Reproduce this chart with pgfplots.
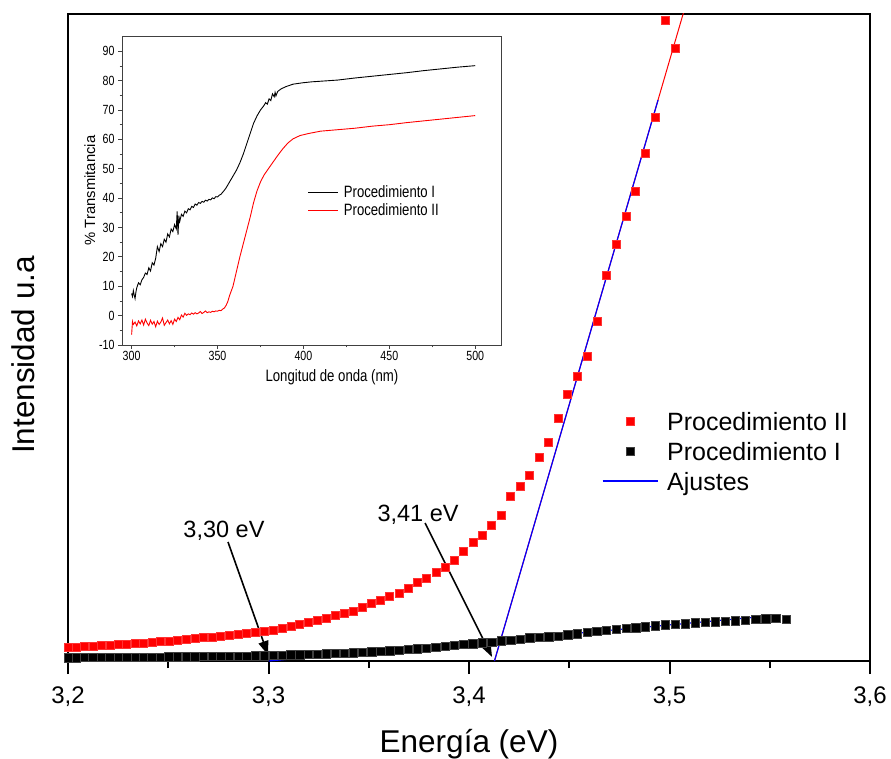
\documentclass[border=0pt]{standalone}
\usepackage{fontspec}
\setmainfont{Liberation Sans}
\newfontfamily\insetfont[FakeStretch=0.8]{Liberation Sans}
\usepackage{pgfplots}
\pgfplotsset{compat=1.18}
\usetikzlibrary{arrows.meta}
\begin{document}
\begin{tikzpicture}
\begin{axis}[
  at={(0pt,0pt)}, anchor=south west,
  scale only axis, width=802pt, height=647pt,
  xmin=3.2, xmax=3.6, ymin=0, ymax=647,
  xtick={3.2,3.3,3.4,3.5,3.6},
  minor xtick={3.25,3.35,3.45,3.55},
  ytick=\empty,
  xtick pos=bottom,
  tick align=outside,
  major tick length=13pt, minor tick length=7pt,
  every tick/.style={black, line width=2pt},
  axis line style={line width=2.5pt},
  /pgf/number format/assume math mode=true,
  xticklabel style={font=\fontsize{24}{28}\selectfont, anchor=base, yshift=-29pt,
    /pgf/number format/fixed, /pgf/number format/fixed zerofill,
    /pgf/number format/precision=1, /pgf/number format/use comma},
  xlabel={Energía (eV)},
  xlabel style={font=\fontsize{31.5}{36}\selectfont, at={(axis description cs:0.5,0)}, anchor=base, yshift=-91pt},
  ylabel={Intensidad u.a},
  ylabel style={font=\fontsize{31.5}{36}\selectfont, at={(axis description cs:0,0.473)}, anchor=base, yshift=33pt},
  legend image code/.code={\draw[mark repeat=2,mark phase=2,#1] plot coordinates {(0pt,0pt) (27.5pt,0pt) (55pt,0pt)};},
  legend cell align=left,
  legend style={draw=none, fill=none, inner sep=0pt, outer sep=0pt,
    at={(0.6658,0.3941)}, anchor=north west, row sep=0pt, column sep=9pt,
    font=\fontsize{25}{30}\selectfont,
    nodes={inner sep=0pt, text height=24pt, text depth=6pt}},
]
% Procedimiento II (red squares)
\addplot[only marks, mark=square*, mark size=4pt, mark options={fill=red, draw=red!80!white}] coordinates {
(3.2000,13.5)(3.2041,14)(3.2083,14.5)(3.2124,15)(3.2166,15.5)(3.2208,16)(3.2250,16.5)(3.2292,17)(3.2334,17.5)(3.2376,18)(3.2418,19)(3.2461,19.5)(3.2503,20)(3.2546,21)(3.2589,22)(3.2632,22.5)(3.2675,23.5)(3.2718,24)(3.2761,25)(3.2804,26)(3.2848,26.5)(3.2891,27.5)(3.2935,28.5)(3.2979,29.5)(3.3023,31)(3.3067,33)(3.3111,35)(3.3155,36.5)(3.3199,38.5)(3.3244,40.5)(3.3289,43)(3.3333,45.5)(3.3378,47.5)(3.3423,49.5)(3.3468,53.5)(3.3514,58)(3.3559,61)(3.3604,64.5)(3.3650,67.5)(3.3696,73)(3.3741,78.5)(3.3787,83)(3.3834,89)(3.3880,94)(3.3926,101)(3.3973,110)(3.4019,119)(3.4066,126)(3.4113,136)(3.4160,146)(3.4207,165)(3.4254,175)(3.4302,186)(3.4349,204)(3.4397,219)(3.4444,243)(3.4492,267)(3.4540,285)(3.4589,305)(3.4637,340)(3.4685,386)(3.4734,417)(3.4783,445)(3.4831,470)(3.4880,508)(3.4930,544)(3.4979,641)(3.5028,613)
};
\addlegendentry{Procedimiento II}
% Procedimiento I (black squares)
\addplot[only marks, mark=square*, mark size=4.2pt, mark options={fill=black, draw=black!75}] coordinates {
(3.2000,3.5)(3.2041,3.5)(3.2083,3.6)(3.2124,3.6)(3.2166,3.7)(3.2208,3.7)(3.2250,3.8)(3.2292,3.8)(3.2334,3.9)(3.2376,4.0)(3.2418,4.0)(3.2461,4.1)(3.2503,4.2)(3.2546,4.3)(3.2589,4.4)(3.2632,4.5)(3.2675,4.6)(3.2718,4.7)(3.2761,4.8)(3.2804,4.9)(3.2848,5.0)(3.2891,5.1)(3.2935,5.2)(3.2979,5.4)(3.3023,5.6)(3.3067,5.9)(3.3111,6.2)(3.3155,6.5)(3.3199,6.8)(3.3244,7.1)(3.3289,7.4)(3.3333,7.7)(3.3378,8.0)(3.3423,8.3)(3.3468,8.7)(3.3514,9.3)(3.3559,9.9)(3.3604,10.5)(3.3650,11.1)(3.3696,11.8)(3.3741,12.4)(3.3787,13.0)(3.3834,13.7)(3.3880,14.6)(3.3926,15.6)(3.3973,16.7)(3.4019,17.3)(3.4066,18.5)(3.4113,19.0)(3.4160,20.2)(3.4207,21.0)(3.4254,22.0)(3.4302,23.2)(3.4349,23.7)(3.4397,24.3)(3.4444,25.0)(3.4492,26.5)(3.4540,27.5)(3.4589,29.0)(3.4637,30.0)(3.4685,30.8)(3.4734,32.0)(3.4783,33.0)(3.4831,33.5)(3.4880,34.5)(3.4930,35.3)(3.4979,36.2)(3.5028,37.0)(3.5078,37.5)(3.5127,38.2)(3.5177,38.8)(3.5227,39.3)(3.5277,39.8)(3.5328,40.3)(3.5378,41.0)(3.5429,41.7)(3.5479,42.5)(3.5530,43.0)(3.5581,42.0)
};
\addlegendentry{Procedimiento I}
% red fit line (under the blue one)
\addplot[red, line width=1pt, forget plot] coordinates {(3.4127,0) (3.5127,687.7)};
% Ajustes
\addplot[blue, line width=1.2pt, no marks] coordinates {(3.3000,0) (3.5550,46)};
\addlegendentry{Ajustes}
\addplot[blue, line width=1.2pt, no marks, forget plot] coordinates {(3.4127,0) (3.4943,561)};
% annotations
\node[font=\fontsize{23.5}{28}\selectfont, anchor=base] at (axis cs:3.2778,124) {3,30 eV};
\node[font=\fontsize{23.5}{28}\selectfont, anchor=base] at (axis cs:3.3746,139.3) {3,41 eV};
\draw[line width=1.6pt, -{Triangle[length=14pt,width=10pt]}] (axis cs:3.2798,119) -- (axis cs:3.2998,6);
\draw[line width=1.6pt, -{Triangle[length=14pt,width=10pt]}] (axis cs:3.3781,138) -- (axis cs:3.4115,4);
\end{axis}

% Inset
\begin{axis}[
  at={(54pt,316pt)}, anchor=south west,
  scale only axis, width=379pt, height=309pt,
  xmin=294.4, xmax=515, ymin=-10, ymax=95.2,
  axis background/.style={fill=white},
  xtick={300,350,...,500}, minor x tick num=1,
  ytick={-10,0,...,90}, minor y tick num=1,
  xtick pos=bottom, ytick pos=left,
  tick align=outside,
  major tick length=4pt, minor tick length=2.5pt,
  every tick/.style={black!75, line width=0.8pt},
  axis line style={draw=black!75, line width=0.9pt},
  /pgf/number format/assume math mode=true,
  ticklabel style={font=\insetfont\fontsize{13.3}{15}\selectfont},
  xticklabel style={anchor=base, yshift=-12pt},
  yticklabel style={anchor=east, xshift=0pt},
  xlabel={Longitud de onda (nm)},
  xlabel style={font=\insetfont\fontsize{16.5}{19}\selectfont, at={(axis description cs:0.554,0)}, anchor=base, yshift=-37pt},
  ylabel={\% Transmitancia},
  ylabel style={font=\fontsize{14.8}{17}\selectfont, at={(axis description cs:0,0.5)}, anchor=base, yshift=27pt},
  legend image code/.code={\draw[#1] (0pt,0pt) -- (30pt,0pt);},
  legend cell align=left,
  legend style={draw=none, fill=none, inner sep=0pt, outer sep=0pt,
    at={(0.4908,0.5243)}, anchor=north west, row sep=0pt, column sep=5pt,
    font=\insetfont\fontsize{16.4}{18}\selectfont,
    nodes={inner sep=0pt, text height=14.9pt, text depth=3.1pt}},
]
\addplot[black, line width=0.9pt, no marks] coordinates {
(300,7.5)(300.5,6.5)(301,8.5)(301.5,7)(302,5.8)(302.5,8)(303,9.5)(304,11.2)(305,10.5)(306,12.2)(307,13)(308,14.5)(309,14)(310,16.3)(311,15.2)(312,18)(313,17.2)(314,19.5)(315,23.5)(316,21.8)(317,24.5)(318,23.5)(319,26)(320,25)(321,27.8)(322,26.8)(323,29.5)(324,28.6)(325,31)(326,29.5)(326.5,35.5)(327,27.5)(327.5,34)(328,32)(329,34.5)(330,33.8)(331,35.6)(332,35)(333,36.4)(334,36)(335,37.2)(336,36.8)(337,38)(338,37.6)(339,38.5)(340,38.2)(341,38.9)(342,38.6)(343,39.3)(344,39)(345,39.6)(346,39.4)(347,40.1)(348,39.8)(349,40.5)(350,40.4)(351,41)(352,41.3)(353,42)(354,42.7)(355,43.5)(357,45.5)(359,47.5)(361,49.5)(363,52)(365,55)(367,58.5)(369,62)(371,65.5)(373,68)(375,70)(377,71.5)(378,72.5)(379,72)(380,73.8)(381,73.2)(382,75.5)(383,74.5)(383.5,76)(384,74.8)(385,76.3)(387,77.2)(390,78)(394,78.8)(400,79.3)(405,79.6)(410,79.8)(420,80.2)(430,80.9)(440,81.5)(450,82.1)(460,82.7)(470,83.4)(480,84)(490,84.6)(500,85.1)
};
\addlegendentry{Procedimiento I}
\addplot[red, line width=0.9pt, no marks] coordinates {
(300,-6.5)(300.5,-2)(301,-3)(302,-2.2)(303,-3.5)(304,-1.8)(305,-2.8)(306,-1.5)(307,-3.2)(308,-1.2)(309,-2.5)(310,-3.4)(311,-1.6)(312,-2.9)(313,-2)(314,-3.8)(315,-1.9)(316,-3)(317,-2.2)(318,-0.8)(319,-3.3)(320,-2.4)(321,-1.5)(322,-2.8)(323,-1.7)(324,-3)(325,-1.2)(326,-2)(327,-0.6)(328,-1.4)(329,0.2)(330,-0.5)(331,0.8)(332,0.1)(333,0.6)(334,0.3)(335,0.9)(336,0.5)(337,1)(338,0.6)(339,0.9)(340,1.4)(341,0.7)(342,1.1)(343,1.6)(344,1)(345,1.3)(346,1.1)(347,1.5)(348,1.3)(349,1.6)(350,1.5)(351,1.8)(352,1.7)(353,2.2)(354,2.6)(355,3.5)(356,4.8)(357,6.8)(359,10)(361,15)(363,20)(365,24.5)(367,29)(369,33.5)(371,38.5)(373,42.5)(375,45.5)(377,47.8)(379,49.5)(382,52)(385,54.5)(388,56.8)(391,58.8)(394,60.2)(398,61.3)(403,62)(410,62.8)(420,63.3)(430,63.8)(440,64.5)(450,65)(460,65.7)(470,66.3)(480,66.9)(490,67.5)(500,68.1)
};
\addlegendentry{Procedimiento II}
\end{axis}
\pgfresetboundingbox
\path (-68pt,-97pt) rectangle (823pt,661pt);
\end{tikzpicture}
\end{document}
